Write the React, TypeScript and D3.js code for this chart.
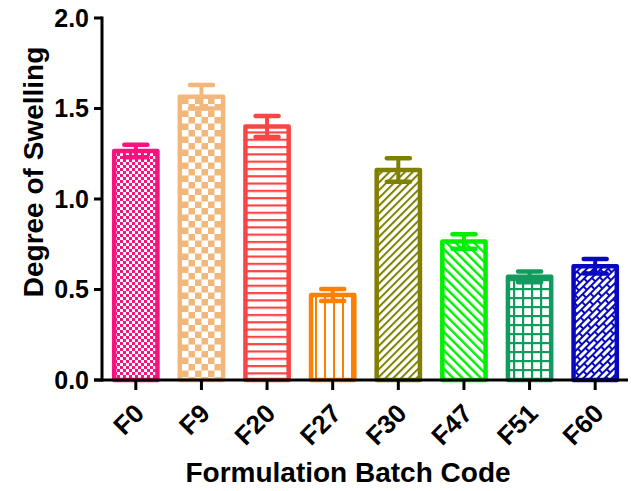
import React from 'react';
import * as d3 from 'd3';

const categories = ['F0', 'F9', 'F20', 'F27', 'F30', 'F47', 'F51', 'F60'];
const means = [1.265, 1.565, 1.4, 0.47, 1.16, 0.765, 0.57, 0.628];
const errors = [0.035, 0.065, 0.058, 0.033, 0.065, 0.04, 0.03, 0.04];
const colors = ['#F5137F', '#F2B77A', '#F84545', '#FF8000', '#808000', '#00F000', '#139A5E', '#0808C0'];
const yTicks = [0, 0.5, 1.0, 1.5, 2.0];
const yTitle = 'Degree of Swelling';
const xTitle = 'Formulation Batch Code';

const W = 634;
const H = 491;
const FONT = 'Liberation Sans, Arial, Helvetica, sans-serif';

function Patterns() {
  const c = colors;
  return (
    <defs>
      <pattern id="p0" patternUnits="userSpaceOnUse" width={6} height={6}>
        <rect width={6} height={6} fill="#fff" />
        <rect x={0} y={0} width={3} height={3} fill={c[0]} />
        <rect x={3} y={3} width={3} height={3} fill={c[0]} />
      </pattern>
      <pattern id="p1" patternUnits="userSpaceOnUse" width={13} height={13}>
        <rect width={13} height={13} fill={c[1]} />
        <rect x={0} y={0} width={6.5} height={6.5} fill="#fff" />
        <rect x={6.5} y={6.5} width={6.5} height={6.5} fill="#fff" />
      </pattern>
      <pattern id="p2" patternUnits="userSpaceOnUse" width={10} height={7.3}>
        <rect width={10} height={7.3} fill="#fff" />
        <rect x={0} y={0} width={10} height={2.2} fill={c[2]} />
      </pattern>
      <pattern id="p3" patternUnits="userSpaceOnUse" width={9} height={10}>
        <rect width={9} height={10} fill="#fff" />
        <rect x={0} y={0} width={2} height={10} fill={c[3]} />
      </pattern>
      <pattern id="p4" patternUnits="userSpaceOnUse" width={5.5} height={5.5} patternTransform="rotate(45)">
        <rect width={5.5} height={5.5} fill="#fff" />
        <rect x={0} y={0} width={2} height={5.5} fill={c[4]} />
      </pattern>
      <pattern id="p5" patternUnits="userSpaceOnUse" width={6.5} height={6.5} patternTransform="rotate(-45)">
        <rect width={6.5} height={6.5} fill="#fff" />
        <rect x={0} y={0} width={2.4} height={6.5} fill={c[5]} />
      </pattern>
      <pattern id="p6" patternUnits="userSpaceOnUse" width={9} height={9}>
        <rect width={9} height={9} fill="#fff" />
        <rect x={0} y={0} width={2.2} height={9} fill={c[6]} />
        <rect x={0} y={0} width={9} height={2.2} fill={c[6]} />
      </pattern>
      <pattern id="p7" patternUnits="userSpaceOnUse" width={12} height={10} patternTransform="rotate(-45)">
        <rect width={12} height={10} fill={c[7]} />
        <rect x={1} y={1} width={10} height={3} fill="#fff" />
        <rect x={-5} y={6} width={10} height={3} fill="#fff" />
        <rect x={7} y={6} width={10} height={3} fill="#fff" />
      </pattern>
    </defs>
  );
}

export default function App() {
  const y = d3.scaleLinear().domain([0, 2]).range([380, 18]);
  const x = d3
    .scaleBand<string>()
    .domain(categories)
    .range([103, 628])
    .paddingInner(0.28)
    .paddingOuter(0.14);
  const bw = x.bandwidth();
  const fmt = d3.format('.1f');
  const capW = 27;

  return (
    <svg
      width={W}
      height={H}
      style={{ position: 'absolute', left: 0, top: 0, background: '#fff' }}
      fontFamily={FONT}
    >
      <Patterns />
      <rect width={W} height={H} fill="#fff" />

      {categories.map((cat, i) => {
        const x0 = x(cat)!;
        const top = y(means[i]);
        const cx = x0 + bw / 2;
        return (
          <g key={cat}>
            <rect
              x={x0 + 2}
              y={top}
              width={bw - 4}
              height={y(0) - top}
              fill={`url(#p${i})`}
              stroke={colors[i]}
              strokeWidth={4.5}
              strokeLinejoin="round"
            />
            <line
              x1={cx}
              x2={cx}
              y1={y(means[i] + errors[i])}
              y2={y(means[i] - errors[i])}
              stroke={colors[i]}
              strokeWidth={4}
            />
            {[means[i] + errors[i], means[i] - errors[i]].map((v, k) => (
              <line
                key={k}
                x1={cx - capW / 2 + 2}
                x2={cx + capW / 2 - 2}
                y1={y(v)}
                y2={y(v)}
                stroke={colors[i]}
                strokeWidth={4.5}
                strokeLinecap="round"
              />
            ))}
          </g>
        );
      })}

      <line x1={102} x2={102} y1={y(2) - 1.5} y2={y(0) + 1.5} stroke="#000" strokeWidth={3} />
      {yTicks.map((t) => (
        <g key={t}>
          <line x1={94} x2={102} y1={y(t)} y2={y(t)} stroke="#000" strokeWidth={3} />
          <text
            x={89}
            y={y(t)}
            dy="0.35em"
            textAnchor="end"
            fontSize={25}
            fontWeight="bold"
            fill="#000"
          >
            {fmt(t)}
          </text>
        </g>
      ))}

      <line x1={94} x2={628} y1={y(0)} y2={y(0)} stroke="#000" strokeWidth={3} />
      {categories.map((cat) => {
        const cx = x(cat)! + bw / 2;
        return (
          <g key={cat}>
            <line x1={cx} x2={cx} y1={y(0)} y2={y(0) + 10} stroke="#000" strokeWidth={3} />
            <text
              transform={`translate(${cx + 10},${y(0) + 35}) rotate(-45)`}
              textAnchor="end"
              fontSize={26}
              fontWeight="bold"
              fill="#000"
            >
              {cat}
            </text>
          </g>
        );
      })}

      <text
        transform={`translate(43,172) rotate(-90)`}
        textAnchor="middle"
        fontSize={28}
        fontWeight="bold"
        fill="#000"
      >
        {yTitle}
      </text>
      <text x={348} y={482} textAnchor="middle" fontSize={28} fontWeight="bold" fill="#000">
        {xTitle}
      </text>
    </svg>
  );
}
